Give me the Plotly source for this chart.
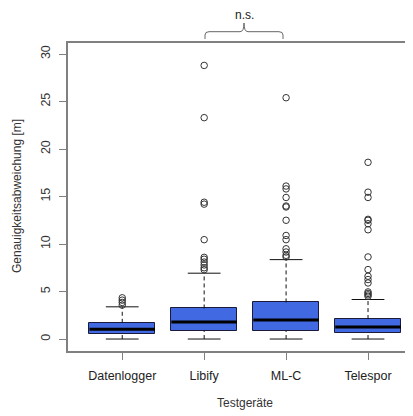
import plotly.graph_objects as go

categories = ["Datenlogger", "Libify", "ML-C", "Telespor"]
q1 = [0.49, 0.84, 0.84, 0.66]
median = [1.02, 1.78, 1.99, 1.26]
q3 = [1.71, 3.22, 3.85, 2.10]
whisker_low = [0.0, 0.0, 0.0, 0.0]
whisker_high = [3.39, 6.93, 8.36, 4.16]
outliers = [
    [4.34, 4.09, 3.85, 3.57],
    [28.8, 23.3, 14.4, 14.2, 10.46, 8.6, 8.4, 8.1, 7.8, 7.5, 7.3],
    [25.4, 16.1, 15.8, 14.9, 14.0, 13.9, 12.5, 10.9, 10.46, 9.5, 9.16, 8.81, 8.64],
    [18.6, 15.46, 14.9, 12.6, 12.5, 12.14, 11.5, 8.64, 7.31, 6.61, 6.26, 5.9, 4.96, 4.8, 4.65, 4.5],
]
y_ticks = [0, 5, 10, 15, 20, 25, 30]

pos = list(range(1, len(categories) + 1))
BOXW = 0.8
STAPLE = 0.4
FONT = "Liberation Sans, Arial, sans-serif"

fig = go.Figure()

# boxes
fig.add_trace(go.Bar(
    x=pos, y=[b - a for a, b in zip(q1, q3)], base=q1, width=BOXW,
    marker=dict(color="#4169E1", line=dict(color="#1a1a3a", width=1)),
    hoverinfo="skip", showlegend=False,
))

def segs(centers, halfw, vals):
    xs, ys = [], []
    for c, v in zip(centers, vals):
        xs += [c - halfw, c + halfw, None]
        ys += [v, v, None]
    return xs, ys

# whiskers (dashed)
wx, wy = [], []
for c, lo, a, b, hi in zip(pos, whisker_low, q1, q3, whisker_high):
    wx += [c, c, None, c, c, None]
    wy += [lo, a, None, b, hi, None]
fig.add_trace(go.Scatter(x=wx, y=wy, mode="lines",
                         line=dict(color="#111", width=1, dash="4px,3px"),
                         hoverinfo="skip", showlegend=False))

# staples
sx, sy = segs(pos, STAPLE / 2, whisker_low)
sx2, sy2 = segs(pos, STAPLE / 2, whisker_high)
fig.add_trace(go.Scatter(x=sx + sx2, y=sy + sy2, mode="lines",
                         line=dict(color="#111", width=1),
                         hoverinfo="skip", showlegend=False))

# medians
mx, my = segs(pos, BOXW / 2, median)
fig.add_trace(go.Scatter(x=mx, y=my, mode="lines",
                         line=dict(color="#000", width=3),
                         hoverinfo="skip", showlegend=False))

# outliers
ox, oy = [], []
for c, vals in zip(pos, outliers):
    ox += [c] * len(vals)
    oy += vals
fig.add_trace(go.Scatter(x=ox, y=oy, mode="markers",
                         marker=dict(symbol="circle-open", size=6.5,
                                     color="#333", line=dict(width=1)),
                         hoverinfo="skip", showlegend=False))

# page body has an 8px margin: figure occupies window pixels 8..413 / 8..416
OFF = 8
W, H = 413 - OFF, 416 - OFF
L, T, R = 68 - OFF, 43 - OFF, 0
B = H - (351 - OFF)
pw, ph = W - L - R, H - T - B

def px_x(p):
    return (p - OFF - L) / pw

def px_y(p):
    return (H - B - (p - OFF)) / ph

fig.update_layout(
    width=W, height=H,
    margin=dict(l=L, r=R, t=T, b=B, pad=0),
    paper_bgcolor="white", plot_bgcolor="white",
    font=dict(family=FONT, size=12, color="#333"),
    bargap=0,
    xaxis=dict(range=[0.338, 4.549], tickvals=pos, ticktext=categories,
               showgrid=False, zeroline=False, showline=True, mirror=True,
               linecolor="#808080", linewidth=1.5,
               ticks="outside", ticklen=7, tickcolor="#808080", tickwidth=1,
               tickfont=dict(size=12.5, color="#222"), ticklabelstandoff=5),
    yaxis=dict(range=[-1.26, 31.16], tickvals=y_ticks,
               ticktext=[str(v) for v in y_ticks], tickangle=-90,
               showgrid=False, zeroline=False, showline=True, mirror=False,
               linecolor="#808080", linewidth=1.5,
               ticks="outside", ticklen=7, tickcolor="#808080", tickwidth=1,
               tickfont=dict(size=12.5, color="#333"), ticklabelstandoff=4),
    annotations=[
        dict(text="Genauigkeitsabweichung [m]", xref="paper", yref="paper",
             x=px_x(17), y=px_y(196), textangle=-90, showarrow=False,
             xanchor="center", yanchor="middle", font=dict(size=12, color="#333")),
        dict(text="Testgeräte", xref="paper", yref="paper",
             x=px_x(245), y=px_y(403), showarrow=False,
             xanchor="center", yanchor="middle", font=dict(size=12, color="#333")),
        dict(text="n.s.", xref="paper", yref="paper",
             x=px_x(244), y=px_y(15), showarrow=False,
             xanchor="center", yanchor="middle", font=dict(size=12, color="#222")),
    ],
)

# bracket above Libify / ML-C
xl, xm, xr = px_x(205), px_x(244), px_x(283)
yb, yh, yt = px_y(39), px_y(31.7), px_y(23)
rx = px_x(209) - px_x(205)
ry = px_y(31.7) - px_y(35)
path = (f"M {xl},{yb} L {xl},{yh - ry} Q {xl},{yh} {xl + rx},{yh} "
        f"L {xm - rx},{yh} Q {xm},{yh} {xm},{yt} "
        f"Q {xm},{yh} {xm + rx},{yh} L {xr - rx},{yh} "
        f"Q {xr},{yh} {xr},{yh - ry} L {xr},{yb}")
fig.add_shape(type="path", path=path, xref="paper", yref="paper",
              line=dict(color="#666", width=1))

fig.write_html("out.html")
